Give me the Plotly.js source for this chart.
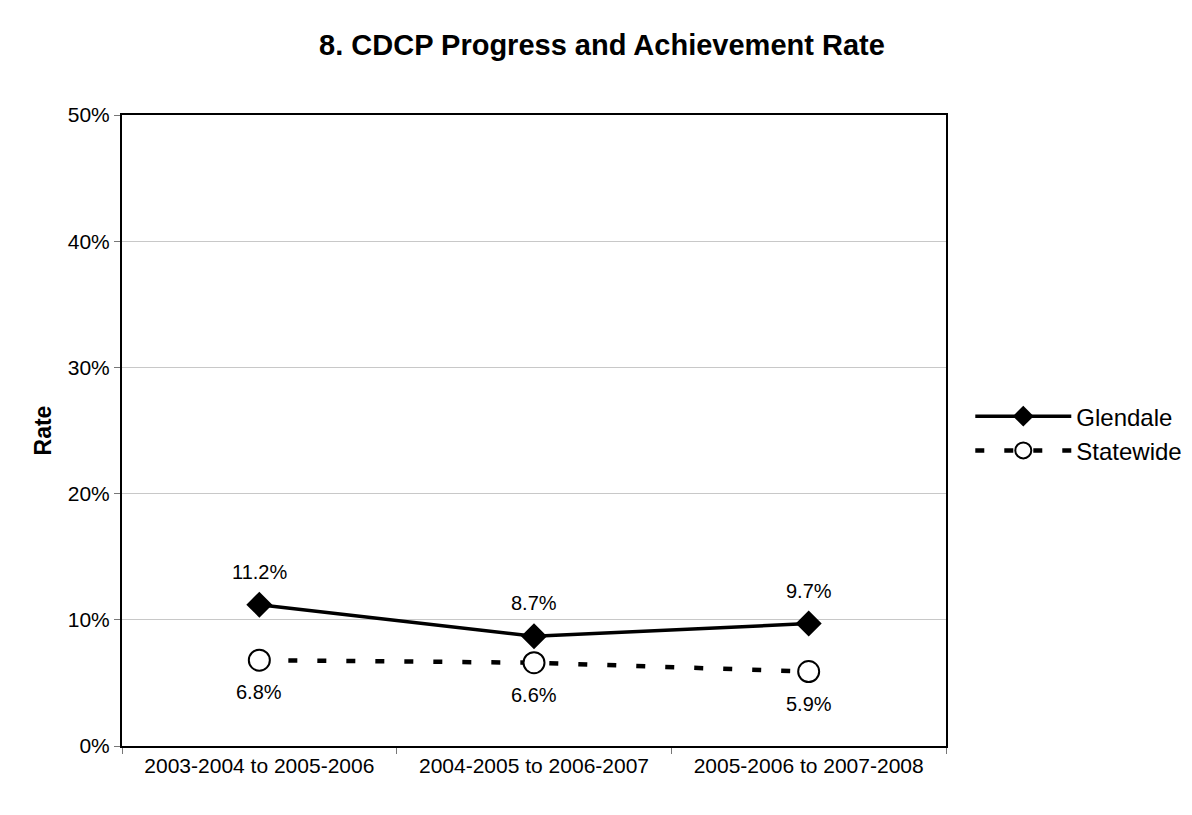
<!DOCTYPE html>
<html><head><meta charset="utf-8">
<script src="https://cdn.plot.ly/plotly-3.0.1.min.js"></script>
<style>html,body{margin:0;padding:0;background:#fff}#chart{width:1192px;height:815px}</style>
</head><body><div id="chart"></div>
<script>
const categories = ["2003-2004 to 2005-2006", "2004-2005 to 2006-2007", "2005-2006 to 2007-2008"];
const glendale = [0.112, 0.087, 0.097];
const statewide = [0.068, 0.066, 0.059];
const yTicks = [0, 0.1, 0.2, 0.3, 0.4, 0.5];

const fmt = v => (v * 100).toFixed(1) + "%";
const ff = "Liberation Sans, Arial, sans-serif";

const traces = [
  {x: categories, y: glendale, name: "Glendale", mode: "lines+markers",
   line: {color: "#000", width: 3.5},
   marker: {symbol: "diamond", size: 20, color: "#000"}, cliponaxis: false},
  {x: categories, y: statewide, name: "Statewide", mode: "lines+markers",
   line: {color: "#000", width: 4.5, dash: "9px,20px"},
   marker: {symbol: "circle", size: 21, color: "#fff", line: {width: 2, color: "#000"}}, cliponaxis: false}
];

const annotations = [];
categories.forEach((c, i) => {
  annotations.push({x: c, y: glendale[i], text: fmt(glendale[i]), showarrow: false, yshift: 33,
                    font: {family: ff, size: 20, color: "#000"}});
  annotations.push({x: c, y: statewide[i], text: fmt(statewide[i]), showarrow: false, yshift: -32,
                    font: {family: ff, size: 20, color: "#000"}});
});

const layout = {
  width: 1192, height: 815,
  margin: {l: 122, r: 246, t: 115, b: 69},
  paper_bgcolor: "#fff", plot_bgcolor: "#fff",
  font: {family: ff, size: 20, color: "#000"},
  title: {text: "<b>8. CDCP Progress and Achievement Rate</b>", x: 0.505, xanchor: "center", y: 0.945, yanchor: "middle",
          font: {family: ff, size: 29, color: "#000"}},
  xaxis: {type: "category", range: [-0.5, 2.5], tickson: "boundaries", ticks: "outside", ticklen: 6,
          tickcolor: "#777", showgrid: false, showline: true, linecolor: "#000", linewidth: 2, mirror: true,
          tickfont: {family: ff, size: 21, color: "#000"}, zeroline: false},
  yaxis: {range: [0, 0.5], tickvals: yTicks, tickformat: ".0%", ticks: "outside", ticklen: 6, tickcolor: "#777",
          showgrid: true, gridcolor: "#c8c8c8", gridwidth: 1, showline: true, linecolor: "#000", linewidth: 2,
          mirror: true, zeroline: false, tickfont: {family: ff, size: 21, color: "#000"},
          title: {text: "<b>Rate</b>", font: {family: ff, size: 23, color: "#000"}, standoff: 10}},
  annotations: annotations,
  legend: {xref: "container", yref: "container", x: 0.814, y: 0.468, xanchor: "left", yanchor: "middle", itemwidth: 96,
           font: {family: ff, size: 24, color: "#000"}, tracegroupgap: 0, bgcolor: "rgba(0,0,0,0)"},
  showlegend: true
};

Plotly.newPlot("chart", traces, layout, {displayModeBar: false, staticPlot: true});
</script></body></html>
